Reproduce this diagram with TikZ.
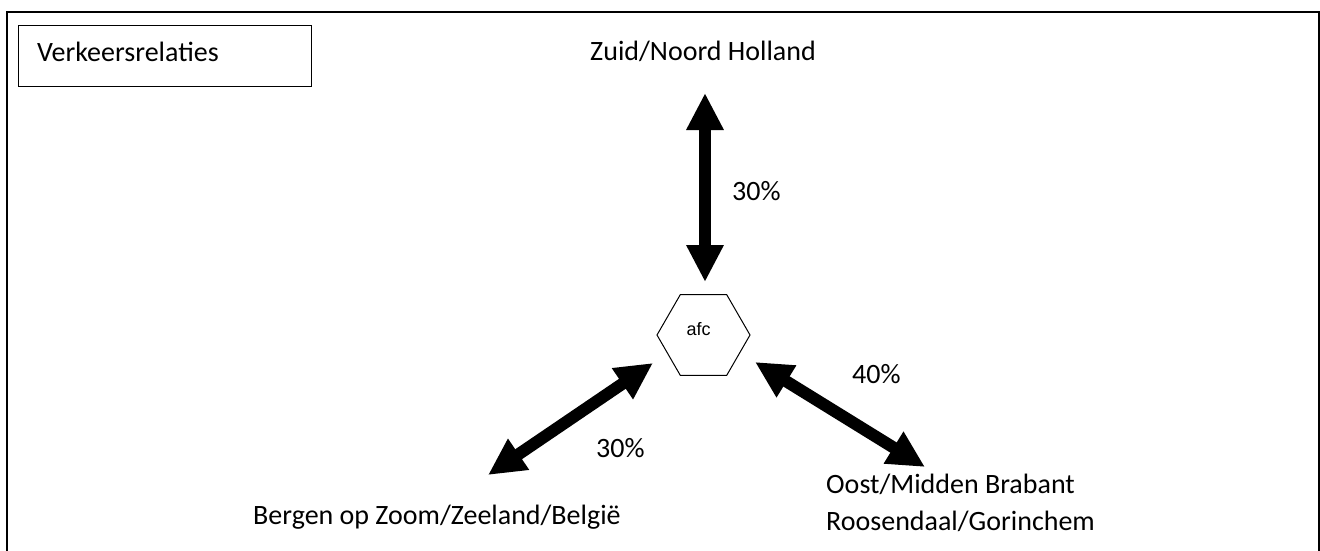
\documentclass[tikz,border=0pt]{standalone}
\usepackage{fontspec}
\setmainfont{Carlito}
\newfontfamily\afcfont{Liberation Sans}
\usetikzlibrary{arrows.meta,shapes.geometric}
\begin{document}
\begin{tikzpicture}[x=1pt,y=-1pt,
  lbl/.style={anchor=base west,inner sep=0pt,font=\fontsize{28}{32}\selectfont},
  bigarrow/.style={line width=12pt,{Triangle[length=37pt,width=35pt]}-{Triangle[length=37pt,width=35pt]}}]
\useasboundingbox (0,0) rectangle (1320,551);
\draw[line width=2pt] (7,560) -- (7,12) -- (1318.5,12) -- (1318.5,560);
\node[draw,line width=1.4pt,minimum width=293pt,minimum height=61pt,anchor=north west,inner sep=0pt] (title) at (18,25) {};
\node[lbl] (tt) at (37,62) {Verkeersrelaties};
\node[lbl] (zn) at (590,61) {Zuid/Noord Holland};
\node[lbl] (bz) at (253,524) {Bergen op Zoom/Zeeland/België};
\node[lbl] (om) at (826,493) {Oost/Midden Brabant};
\node[lbl] (rg) at (826,530) {Roosendaal/Gorinchem};
\node[lbl] (p1) at (732,200) {30\%};
\node[lbl] (p2) at (596,457) {30\%};
\node[lbl] (p3) at (852,383) {40\%};
\node[draw,line width=1pt,regular polygon,regular polygon sides=6,minimum size=93pt,inner sep=0pt] (hex) at (703.5,335) {};
\node[font=\afcfont\fontsize{18}{21}\selectfont,inner sep=0pt] (afc) at (698.5,329) {afc};
\coordinate (a1) at (705,93);
\coordinate (a2) at (705,282);
\coordinate (b1) at (653,363);
\coordinate (b2) at (488,475);
\coordinate (c1) at (755,362);
\coordinate (c2) at (925,467);
\draw[bigarrow] (a1) -- (a2);
\draw[bigarrow] (b1) -- (b2);
\draw[bigarrow] (c1) -- (c2);
\end{tikzpicture}
\end{document}
